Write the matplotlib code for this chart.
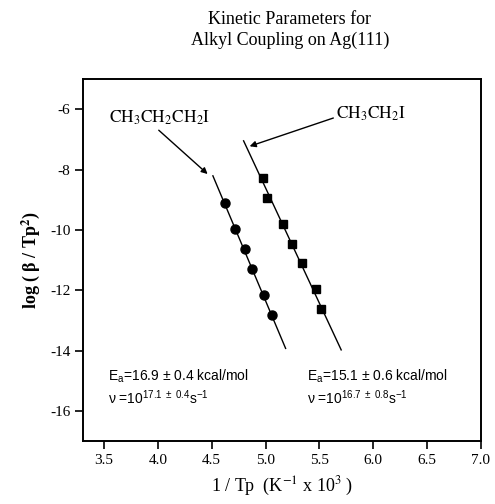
import matplotlib
matplotlib.use("Agg")
import matplotlib.pyplot as plt
import numpy as np

plt.rcParams['axes.unicode_minus'] = False
plt.rcParams['mathtext.fontset'] = 'custom'
plt.rcParams['mathtext.rm'] = 'Liberation Sans'
plt.rcParams['mathtext.it'] = 'Liberation Sans:italic'
plt.rcParams['mathtext.bf'] = 'Liberation Sans:bold'

# Data
propyl_x = [4.620, 4.712, 4.805, 4.870, 4.981, 5.056]
propyl_y = [-9.11, -9.97, -10.63, -11.29, -12.15, -12.83]
propyl_fit_x = [4.511, 5.186]
propyl_fit_y = [-8.21, -13.93]

ethyl_x = [4.975, 5.016, 5.160, 5.244, 5.334, 5.467, 5.513]
ethyl_y = [-8.28, -8.95, -9.80, -10.46, -11.10, -11.95, -12.64]
ethyl_fit_x = [4.796, 5.702]
ethyl_fit_y = [-7.05, -13.98]

x_ticks = [3.5, 4.0, 4.5, 5.0, 5.5, 6.0, 6.5, 7.0]
x_tick_labels = ["3.5", "4.0", "4.5", "5.0", "5.5", "6.0", "6.5", "7.0"]
y_ticks = [-16, -14, -12, -10, -8, -6]
y_tick_labels = ["-16", "-14", "-12", "-10", "-8", "-6"]

serif = ['Liberation Serif', 'DejaVu Serif']
sans = ['Liberation Sans', 'DejaVu Sans']

fig = plt.figure(figsize=(4.95, 5.04), dpi=100)
ax = fig.add_axes([83/495, 1-441/504, (481-83)/495, (441-79)/504])

ax.plot(propyl_fit_x, propyl_fit_y, color='black', lw=1.0)
ax.plot(ethyl_fit_x, ethyl_fit_y, color='black', lw=1.0)
ax.plot(propyl_x, propyl_y, 'o', color='black', ms=6.5)
ax.plot(ethyl_x, ethyl_y, 's', color='black', ms=6.3)

ax.set_xlim(3.305, 7.0)
ax.set_ylim(-17.0, -5.0)
ax.set_xticks(x_ticks)
ax.set_xticklabels(x_tick_labels, family=serif, fontsize=11)
ax.set_yticks(y_ticks)
ax.set_yticklabels(y_tick_labels, family=serif, fontsize=11)
ax.tick_params(direction='out', length=6, width=1.2, pad=3)
for s in ax.spines.values():
    s.set_linewidth(1.4)

# labels with arrows
ax.annotate(r"$\mathrm{CH_3CH_2CH_2I}$", xy=(4.462, -8.15), xytext=(4.017, -6.27),
            ha='center', va='center', fontsize=12.5, math_fontfamily='stix',
            arrowprops=dict(arrowstyle='-|>', color='black', lw=1.0,
                            mutation_scale=9, shrinkA=1, shrinkB=0,
                            relpos=(0.45, 0.0)))
ax.annotate(r"$\mathrm{CH_3CH_2I}$", xy=(4.852, -7.23), xytext=(5.655, -6.14),
            ha='left', va='center', fontsize=12.5, math_fontfamily='stix',
            arrowprops=dict(arrowstyle='-|>', color='black', lw=1.0,
                            mutation_scale=9, shrinkA=0, shrinkB=0,
                            relpos=(0.0, 0.3)))

ax.text(3.534, -14.84, r"E$_\mathrm{a}$=16.9 $\pm$ 0.4 kcal/mol", family=sans,
        fontsize=10, ha='left', va='center')
ax.text(3.534, -15.55, r"ν =10$^{17.1\ \pm\ 0.4}$s$^{-1}$", family=sans,
        fontsize=10, ha='left', va='center')
ax.text(5.387, -14.84, r"E$_\mathrm{a}$=15.1 $\pm$ 0.6 kcal/mol", family=sans,
        fontsize=10, ha='left', va='center')
ax.text(5.387, -15.55, r"ν =10$^{16.7\ \pm\ 0.8}$s$^{-1}$", family=sans,
        fontsize=10, ha='left', va='center')

ax.set_ylabel(r"log ( β / Tp$^{\mathbf{2}}$)", family=serif, fontsize=13,
              fontweight='bold', math_fontfamily='stix', labelpad=6)
ax.set_xlabel(r"1 / Tp  (K$^{-1}$ x 10$^3$ )", family=serif, fontsize=13,
              math_fontfamily='stix', labelpad=6)

fig.text(290/495, 1-19/504, "Kinetic Parameters for", family=serif,
         fontsize=13, ha='center', va='center')
fig.text(290/495, 1-40/504, "Alkyl Coupling on Ag(111)", family=serif,
         fontsize=13, ha='center', va='center')

fig.savefig("out.png", dpi=100)
